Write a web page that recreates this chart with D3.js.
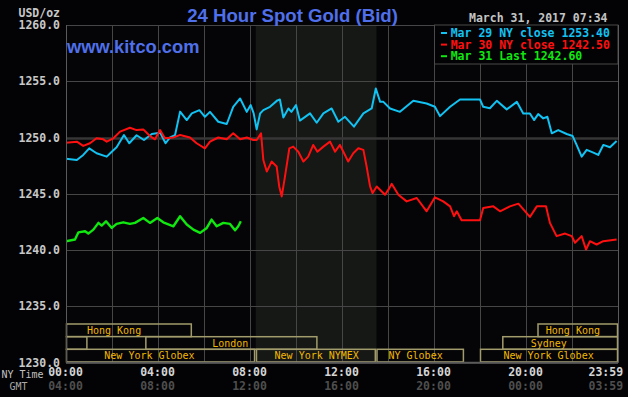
<!DOCTYPE html>
<html><head><meta charset="utf-8">
<script src="https://cdn.jsdelivr.net/npm/d3@7/dist/d3.min.js"></script>
<style>
html,body{margin:0;padding:0;background:#000;}
svg{display:block;}
</style></head>
<body>
<script>
// ---- DATA ----
const yTicks = [1230, 1235, 1240, 1245, 1250, 1255, 1260];
const timeTicksNY = ["00:00", "04:00", "08:00", "12:00", "16:00", "20:00", "23:59"];
const timeTicksGMT = ["04:00", "08:00", "12:00", "16:00", "20:00", "00:00", "03:59"];
const timeTickHours = [0, 4, 8, 12, 16, 20, 23.983];

const mar29Times = [0,0.47,0.75,1.01,1.33,1.77,1.99,2.2,2.52,2.75,3.07,3.39,3.73,4.09,4.33,4.52,4.74,4.96,5.25,5.47,5.8,6.04,6.26,6.62,6.99,7.27,7.57,7.86,8.03,8.16,8.29,8.44,8.58,8.87,9.19,9.3,9.45,9.67,9.8,10.0,10.17,10.61,10.9,11.19,11.55,11.84,12.13,12.52,12.93,13.29,13.47,13.66,13.8,14.09,14.52,15.1,15.68,16.04,16.26,16.7,17.13,18.0,18.14,18.43,18.73,19.16,19.6,19.88,20.17,20.35,20.53,20.75,20.93,21.12,21.4,21.77,22.03,22.2,22.42,22.64,22.93,23.14,23.36,23.65,23.94];
const mar29Values = [1248.12,1248.0,1248.45,1249.04,1248.6,1248.3,1248.74,1249.13,1250.22,1249.49,1250.2,1249.78,1250.31,1250.43,1249.49,1250.0,1250.2,1252.3,1251.55,1252.14,1252.43,1251.84,1252.28,1251.4,1251.2,1252.73,1253.47,1252.28,1252.88,1252.14,1250.72,1252.14,1252.43,1252.73,1253.3,1253.38,1251.78,1252.58,1252.28,1252.88,1251.5,1252.14,1251.31,1252.14,1252.58,1251.4,1251.84,1250.96,1252.14,1252.58,1254.35,1253.17,1253.17,1252.58,1252.28,1253.26,1253.02,1252.73,1251.9,1252.73,1253.38,1253.38,1252.73,1252.6,1253.26,1252.5,1253.17,1252.14,1252.14,1251.55,1252.08,1251.7,1251.84,1250.37,1250.66,1250.31,1250.13,1249.34,1248.3,1248.9,1248.66,1248.45,1249.34,1249.13,1249.69];

const mar30Times = [0,0.47,0.75,1.04,1.33,1.62,1.77,2.06,2.35,2.78,3.07,3.36,3.65,3.87,4.09,4.3,4.67,4.96,5.39,5.68,6.04,6.26,6.62,6.99,7.27,7.57,7.86,8.14,8.29,8.48,8.58,8.73,8.94,9.16,9.27,9.38,9.52,9.71,9.88,10.1,10.32,10.53,10.75,10.93,11.19,11.48,11.7,11.91,12.06,12.27,12.49,12.71,12.93,13.07,13.22,13.33,13.51,13.73,13.87,14.06,14.16,14.45,14.81,15.25,15.68,16.04,16.4,16.7,16.87,16.99,17.2,18.0,18.14,18.58,18.87,19.3,19.67,20.17,20.47,20.87,21.04,21.33,21.7,21.99,22.13,22.42,22.61,22.78,23.07,23.36,23.94];
const mar30Values = [1249.54,1249.63,1249.25,1249.49,1249.93,1249.84,1249.63,1249.93,1250.52,1250.87,1250.66,1250.72,1250.13,1249.84,1250.66,1249.93,1250.01,1250.22,1250.0,1249.49,1249.04,1249.63,1250.0,1249.84,1250.37,1249.84,1250.0,1249.78,1249.78,1250.37,1248.0,1246.97,1247.86,1247.42,1245.65,1244.76,1246.53,1249.04,1249.19,1248.74,1247.86,1248.3,1249.34,1248.74,1249.19,1249.63,1248.74,1249.34,1248.74,1247.86,1248.6,1249.04,1248.9,1247.42,1245.65,1245.06,1245.65,1245.2,1244.91,1245.5,1245.88,1244.91,1244.32,1244.62,1243.44,1244.68,1244.32,1243.88,1243.0,1243.44,1242.64,1242.64,1243.74,1243.88,1243.44,1243.88,1244.12,1242.94,1243.88,1243.88,1242.41,1241.23,1241.46,1241.23,1240.64,1241.23,1240.04,1240.78,1240.49,1240.78,1240.93];

const mar31Times = [0,0.39,0.54,0.83,0.97,1.19,1.41,1.55,1.74,1.99,2.2,2.49,2.78,3.0,3.36,3.65,3.97,4.23,4.67,4.96,5.25,5.54,5.83,6.12,6.33,6.55,6.84,7.13,7.35,7.49,7.6];
const mar31Values = [1240.78,1240.93,1241.57,1241.67,1241.46,1241.81,1242.41,1242.17,1242.55,1241.96,1242.32,1242.46,1242.32,1242.41,1242.85,1242.41,1242.85,1242.46,1242.11,1243.0,1242.26,1241.81,1241.52,1241.96,1242.7,1242.11,1242.41,1242.32,1241.75,1242.11,1242.55];

const legendLabels = ["Mar 29 NY close 1253.40", "Mar 30 NY close 1242.50", "Mar 31 Last 1242.60"];
const seriesColors = ["#12c2f2", "#ff1010", "#10e810"];

const sessionNames  = ["Hong Kong", "Hong Kong", "", "London", "Sydney", "New York Globex", "New York NYMEX", "NY Globex", "New York Globex"];
const sessionRows   = [0, 0, 1, 1, 1, 2, 2, 2, 2];
const sessionStart  = [0, 20.5, 0, 3.45, 18.97, 0, 8.26, 13.5, 18.0];
const sessionEnd    = [5.47, 24, 0.93, 10.93, 24, 8.22, 13.47, 17.3, 24];
const sessionLabelAt= [2.09, 22.04, 0.5, 7.14, 20.99, 3.63, 10.9, 15.2, 20.98];

const nymexShade = [8.25, 13.5];

// ---- CHART ----
const W = 628, H = 397;
const L = 66, R = 618, T = 25, B = 362.5;
const x = d3.scaleLinear().domain([0, 24]).range([L, R]);
const y = d3.scaleLinear().domain([1230, 1260]).range([B, T]);

const svg = d3.select("body").append("svg").attr("width", W).attr("height", H);
svg.append("rect").attr("width", W).attr("height", H).attr("fill", "#030305");
svg.append("rect").attr("x", L).attr("y", T).attr("width", R - L).attr("height", B - T).attr("fill", "#050507");

// shaded NYMEX region
svg.append("rect").attr("x", x(nymexShade[0])).attr("y", T)
  .attr("width", x(nymexShade[1]) - x(nymexShade[0])).attr("height", B - T)
  .attr("fill", "#151815");

// grid
const grid = svg.append("g").attr("stroke", "#464646").attr("stroke-width", 1);
d3.range(0, 25, 2).forEach(h => {
  grid.append("line").attr("x1", Math.round(x(h)) + 0.5).attr("x2", Math.round(x(h)) + 0.5)
    .attr("y1", T).attr("y2", B);
});
yTicks.forEach(v => {
  grid.append("line").attr("x1", L).attr("x2", R)
    .attr("y1", Math.round(y(v)) + 0.5).attr("y2", Math.round(y(v)) + 0.5)
    .attr("stroke", v === 1250 ? "#363636" : "#464646")
    .attr("stroke-width", v === 1250 ? 2.5 : 1);
});

// legend box
const lgX = 434.5, lgY = T, lgW = R - 434.5, lgH = 39;
svg.append("rect").attr("x", lgX).attr("y", lgY).attr("width", lgW).attr("height", lgH)
  .attr("fill", "#030305").attr("stroke", "#4a4a4a").attr("stroke-width", 1);

// lines
svg.append("clipPath").attr("id", "clip").append("rect")
  .attr("x", L).attr("y", T).attr("width", R - L).attr("height", B - T);
const line = d3.line().x(d => x(d[0])).y(d => y(d[1]));
const series = [
  d3.zip(mar29Times, mar29Values),
  d3.zip(mar30Times, mar30Values),
  d3.zip(mar31Times, mar31Values)
];
const gLines = svg.append("g").attr("clip-path", "url(#clip)");
series.forEach((s, i) => {
  gLines.append("path").datum(s).attr("d", line)
    .attr("fill", "none").attr("stroke", seriesColors[i])
    .attr("stroke-width", i === 2 ? 2.4 : 2).attr("stroke-linejoin", "round");
});

// session bars
const rowTop = [324, 336.7, 349.3];
const rowH = 12.6;
const gs = svg.append("g");
sessionNames.forEach((n, i) => {
  const r = sessionRows[i];
  gs.append("rect").attr("x", x(sessionStart[i]) + 0.5).attr("y", rowTop[r])
    .attr("width", x(sessionEnd[i]) - x(sessionStart[i]) - 1).attr("height", rowH)
    .attr("fill", "none").attr("stroke", "#a29c6c").attr("stroke-width", 1.5);
  if (n) {
    gs.append("text").attr("x", x(sessionLabelAt[i])).attr("y", rowTop[r] + 10)
      .attr("text-anchor", "middle").attr("fill", "#f2b800")
      .style("font", "10px 'DejaVu Sans Mono', monospace").text(n);
  }
});

// plot border (left/bottom/right)
svg.append("line").attr("x1", L + 0.5).attr("x2", L + 0.5).attr("y1", T).attr("y2", B).attr("stroke", "#5a5a5a");
svg.append("line").attr("x1", R + 0.5).attr("x2", R + 0.5).attr("y1", T).attr("y2", B).attr("stroke", "#5a5a5a");
svg.append("line").attr("x1", L).attr("x2", R).attr("y1", B).attr("y2", B).attr("stroke", "#5a5a5a").attr("stroke-width", 1.5);

// y axis
const yAxis = d3.axisLeft(y).tickValues(yTicks).tickFormat(d3.format(".1f")).tickSize(0).tickPadding(6);
const ga = svg.append("g").attr("transform", `translate(${L},0)`).call(yAxis);
ga.select(".domain").remove();
ga.selectAll("text").attr("fill", "#c8c8c8")
  .style("font", "bold 11.5px 'DejaVu Sans Mono', monospace");

svg.append("text").attr("x", 60).attr("y", 16.5).attr("text-anchor", "end")
  .attr("fill", "#c8c8c8").style("font", "bold 11.5px 'DejaVu Sans Mono', monospace").text("USD/oz");

// x axis (NY time and GMT)
const mono = "bold 11.5px 'DejaVu Sans Mono', monospace";
const xAxisNY = d3.axisBottom(x).tickValues(timeTickHours)
  .tickFormat((d, i) => timeTicksNY[i]).tickSize(0).tickPadding(0);
const gx = svg.append("g").attr("transform", `translate(-1,368)`).call(xAxisNY);
gx.select(".domain").remove();
gx.selectAll("text").attr("fill", "#d4d4d4").style("font", mono).attr("dy", "0.7em");
gx.selectAll(".tick").filter((d, i) => i === timeTickHours.length - 1).select("text")
  .attr("text-anchor", "end").attr("dx", 6);
const xAxisGMT = d3.axisBottom(x).tickValues(timeTickHours)
  .tickFormat((d, i) => timeTicksGMT[i]).tickSize(0).tickPadding(0);
const gx2 = svg.append("g").attr("transform", `translate(-1,381.5)`).call(xAxisGMT);
gx2.select(".domain").remove();
gx2.selectAll("text").attr("fill", "#4e4e4e").style("font", mono).attr("dy", "0.7em");
gx2.selectAll(".tick").filter((d, i) => i === timeTickHours.length - 1).select("text")
  .attr("text-anchor", "end").attr("dx", 6);

svg.append("text").attr("x", 1.5).attr("y", 377.5).attr("fill", "#c0c0c0")
  .style("font", "10px 'DejaVu Sans Mono', monospace").text("NY Time");
svg.append("text").attr("x", 9.5).attr("y", 390).attr("fill", "#a8a8a8")
  .style("font", "10px 'DejaVu Sans Mono', monospace").text("GMT");

// title texts
svg.append("text").attr("x", 292.5).attr("y", 21.5).attr("text-anchor", "middle")
  .attr("fill", "#4f70ea").style("font", "bold 18.6px 'Liberation Sans', Arial, sans-serif")
  .text("24 Hour Spot Gold (Bid)");
svg.append("text").attr("x", 67).attr("y", 53.3)
  .attr("fill", "#4f70ea").style("font", "bold 18.3px 'Liberation Sans', Arial, sans-serif")
  .text("www.kitco.com");
svg.append("text").attr("x", 607.5).attr("y", 22).attr("text-anchor", "end")
  .attr("fill", "#c4c4c4").style("font", mono).text("March 31, 2017 07:34");

// legend entries
legendLabels.forEach((t, i) => {
  const cy = 33 + i * 11.6;
  svg.append("line").attr("x1", 441).attr("x2", 447).attr("y1", cy).attr("y2", cy)
    .attr("stroke", seriesColors[i]).attr("stroke-width", 2);
  svg.append("text").attr("x", 450.7).attr("y", cy + 4).attr("fill", seriesColors[i])
    .style("font", mono).text(t);
});
</script>
</body></html>
